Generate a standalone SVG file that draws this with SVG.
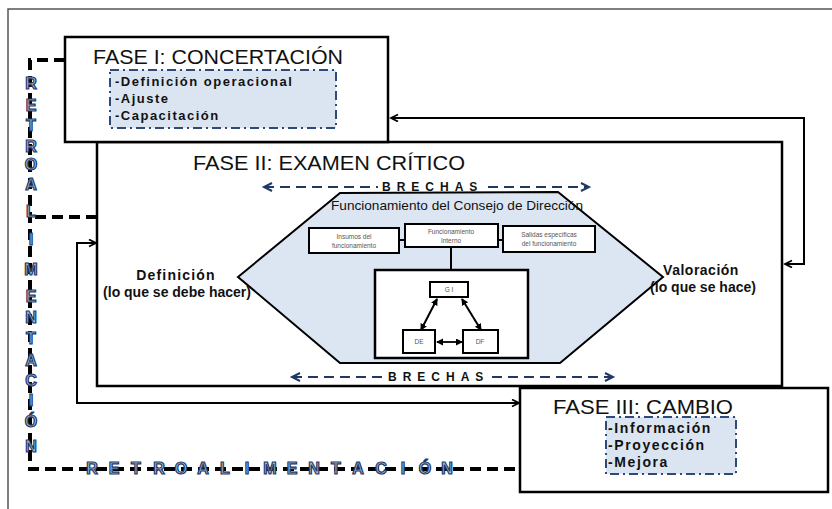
<svg xmlns="http://www.w3.org/2000/svg" width="832" height="509" viewBox="0 0 832 509">
<style>
.box{fill:#fff;stroke:#000;stroke-width:2.5}
.dd{fill:#dbe5f1;stroke:#2e4a7a;stroke-width:2;stroke-dasharray:9 4 2 4}
.title{font-family:"Liberation Sans",Arial,sans-serif;font-size:21px;fill:#111}
.item{font-family:"Liberation Sans",Arial,sans-serif;font-size:13px;font-weight:bold;letter-spacing:1.5px;fill:#111}
.lbl{font-family:"Liberation Sans",Arial,sans-serif;font-size:14px;font-weight:bold;fill:#111;text-anchor:middle}
.small{font-family:"Liberation Sans",Arial,sans-serif;font-size:6.5px;fill:#555;text-anchor:middle}
.sbox{fill:#fff;stroke:#000;stroke-width:2}
.line{fill:none;stroke:#000;stroke-width:2}
.retro{fill:none;stroke:#000;stroke-width:4;stroke-dasharray:11 6}
.brecha{fill:none;stroke:#1f3864;stroke-width:2;stroke-dasharray:10 6}
.bt{font-family:"Liberation Sans",Arial,sans-serif;font-size:12px;font-weight:bold;fill:#111;letter-spacing:6px}
.rl{font-family:"Liberation Sans",Arial,sans-serif;font-size:16px;font-weight:bold;fill:#a9bcd8;stroke:#1f3a66;stroke-width:1.2;text-anchor:middle}
</style>
<defs>
<marker id="arr" markerWidth="10" markerHeight="10" refX="8" refY="4" orient="auto-start-reverse" markerUnits="userSpaceOnUse">
<path d="M1,0.5 L8,4 L1,7.5" fill="none" stroke="#000" stroke-width="1.8"/>
</marker>
<marker id="arrb" markerWidth="12" markerHeight="12" refX="9" refY="5" orient="auto-start-reverse" markerUnits="userSpaceOnUse">
<path d="M1,1 L9,5 L1,9" fill="none" stroke="#1f3864" stroke-width="2"/>
</marker>
<marker id="arrs" markerWidth="8" markerHeight="8" refX="6" refY="3.5" orient="auto-start-reverse" markerUnits="userSpaceOnUse">
<path d="M0,0 L7,3.5 L0,7 Z" fill="#000"/>
</marker>
</defs>
<rect width="832" height="509" fill="#fff"/>
<path d="M8,509 L8,9 L832,9" fill="none" stroke="#555" stroke-width="1.5"/>

<g id="fase2">
<rect class="box" x="97" y="142" width="685" height="244"/>
<text class="title" x="193" y="170" textLength="272" lengthAdjust="spacingAndGlyphs">FASE II: EXAMEN CRÍTICO</text>
</g>

<g id="hexagono">
<polygon points="340,193 558,192 663,277 560,363 340,363 238,277" fill="#dce6f2" stroke="#000" stroke-width="2"/>
<text x="331" y="210" font-family="'Liberation Sans',Arial,sans-serif" font-size="13" fill="#111" textLength="252" lengthAdjust="spacingAndGlyphs">Funcionamiento del Consejo de Dirección</text>
</g>

<g id="insumos">
<rect class="sbox" x="309" y="228" width="90" height="25"/>
<text class="small" x="354" y="239">Insumos del</text>
<text class="small" x="354" y="248">funcionamiento</text>
</g>
<g id="interno">
<rect class="sbox" x="405" y="224" width="93" height="23"/>
<text class="small" x="451" y="234">Funcionamiento</text>
<text class="small" x="451" y="243">Interno</text>
</g>
<g id="salidas">
<rect class="sbox" x="503" y="226" width="92" height="26"/>
<text class="small" x="549" y="237">Salidas específicas</text>
<text class="small" x="549" y="246">del funcionamiento</text>
</g>
<g id="interior">
<rect x="375" y="270" width="153" height="88" fill="#fff" stroke="#000" stroke-width="2.5"/>
</g>
<g id="gi">
<rect class="sbox" x="430" y="282" width="38" height="15"/>
<text class="small" x="449" y="292">G I</text>
</g>
<g id="de">
<rect class="sbox" x="403" y="330" width="32" height="23"/>
<text class="small" x="419" y="344">DE</text>
</g>
<g id="df">
<rect class="sbox" x="463" y="330" width="35" height="23"/>
<text class="small" x="480" y="344">DF</text>
</g>

<g id="fase1">
<rect class="box" x="65" y="37" width="323" height="105"/>
<text class="title" x="93" y="64" textLength="250" lengthAdjust="spacingAndGlyphs">FASE I: CONCERTACIÓN</text>
<rect class="dd" x="110" y="70" width="226" height="58"/>
<text class="item" x="115" y="86">-Definición operacional</text>
<text class="item" x="115" y="103">-Ajuste</text>
<text class="item" x="115" y="120">-Capacitación</text>
</g>

<g id="fase3">
<rect class="box" x="520" y="388" width="308" height="104"/>
<text class="title" x="553" y="414" textLength="180" lengthAdjust="spacingAndGlyphs">FASE III: CAMBIO</text>
<rect class="dd" x="606" y="417" width="130" height="57"/>
<text class="item" x="608" y="433" style="font-size:14px;letter-spacing:1.6px">-Información</text>
<text class="item" x="608" y="450" style="font-size:14px;letter-spacing:1.6px">-Proyección</text>
<text class="item" x="608" y="467" style="font-size:14px;letter-spacing:1.6px">-Mejora</text>
</g>

<g id="definicion">
<text class="lbl" x="176" y="280" letter-spacing="1.2">Definición</text>
<text class="lbl" x="177" y="297">(lo que se debe hacer)</text>
</g>
<g id="valoracion">
<text class="lbl" x="701" y="275" letter-spacing="0.5">Valoración</text>
<text class="lbl" x="703" y="292">(lo que se hace)</text>
</g>

<g id="connectors">
<path class="line" d="M399,240 L405,240"/>
<path class="line" d="M498,240 L503,240"/>
<path class="line" d="M451,247 L451,270"/>
<path d="M421,330 L437,299" fill="none" stroke="#000" stroke-width="2" marker-start="url(#arrs)" marker-end="url(#arrs)"/>
<path d="M481,330 L462,299" fill="none" stroke="#000" stroke-width="2" marker-start="url(#arrs)" marker-end="url(#arrs)"/>
<path d="M437,342 L462,342" fill="none" stroke="#000" stroke-width="1.8" marker-start="url(#arrs)" marker-end="url(#arrs)"/>
<path d="M785,264 L804,264 L804,118 L391,118" class="line" marker-start="url(#arr)" marker-end="url(#arr)"/>
<path d="M96,243 L77,243 L77,403 L519,403" class="line" marker-start="url(#arr)" marker-end="url(#arr)"/>
<path class="brecha" d="M264,187 L378,187" marker-start="url(#arrb)"/>
<path class="brecha" d="M488,187 L589,187" marker-end="url(#arrb)"/>
<path class="brecha" d="M292,377 L384,377" marker-start="url(#arrb)"/>
<path class="brecha" d="M492,377 L613,377" marker-end="url(#arrb)"/>
<path class="retro" d="M65,60 L30,60 L30,469 L520,469"/>
<path class="retro" d="M97,217 L30,217"/>
</g>

<g id="brechas">
<text class="bt" x="382" y="191">BRECHAS</text>
<text class="bt" x="388" y="381">BRECHAS</text>
</g>

<g id="retro-v">
<text class="rl" x="31" y="89">R</text>
<text class="rl" x="31" y="111">E</text>
<text class="rl" x="31" y="131">T</text>
<text class="rl" x="31" y="152">R</text>
<text class="rl" x="31" y="170">O</text>
<text class="rl" x="31" y="190">A</text>
<text class="rl" x="31" y="217">L</text>
<text class="rl" x="31" y="245">I</text>
<text class="rl" x="31" y="275">M</text>
<text class="rl" x="31" y="302">E</text>
<text class="rl" x="31" y="323">N</text>
<text class="rl" x="31" y="344">T</text>
<text class="rl" x="31" y="366">A</text>
<text class="rl" x="31" y="386">C</text>
<text class="rl" x="31" y="406">I</text>
<text class="rl" x="31" y="427">Ó</text>
<text class="rl" x="31" y="452">N</text>
</g>
<g id="retro-h">
<text class="rl" x="92" y="474">R</text>
<text class="rl" x="114" y="474">E</text>
<text class="rl" x="136" y="474">T</text>
<text class="rl" x="159" y="474">R</text>
<text class="rl" x="181" y="474">O</text>
<text class="rl" x="203" y="474">A</text>
<text class="rl" x="225" y="474">L</text>
<text class="rl" x="247" y="474">I</text>
<text class="rl" x="270" y="474">M</text>
<text class="rl" x="292" y="474">E</text>
<text class="rl" x="314" y="474">N</text>
<text class="rl" x="336" y="474">T</text>
<text class="rl" x="358" y="474">A</text>
<text class="rl" x="381" y="474">C</text>
<text class="rl" x="403" y="474">I</text>
<text class="rl" x="425" y="474">Ó</text>
<text class="rl" x="447" y="474">N</text>
</g>
</svg>
